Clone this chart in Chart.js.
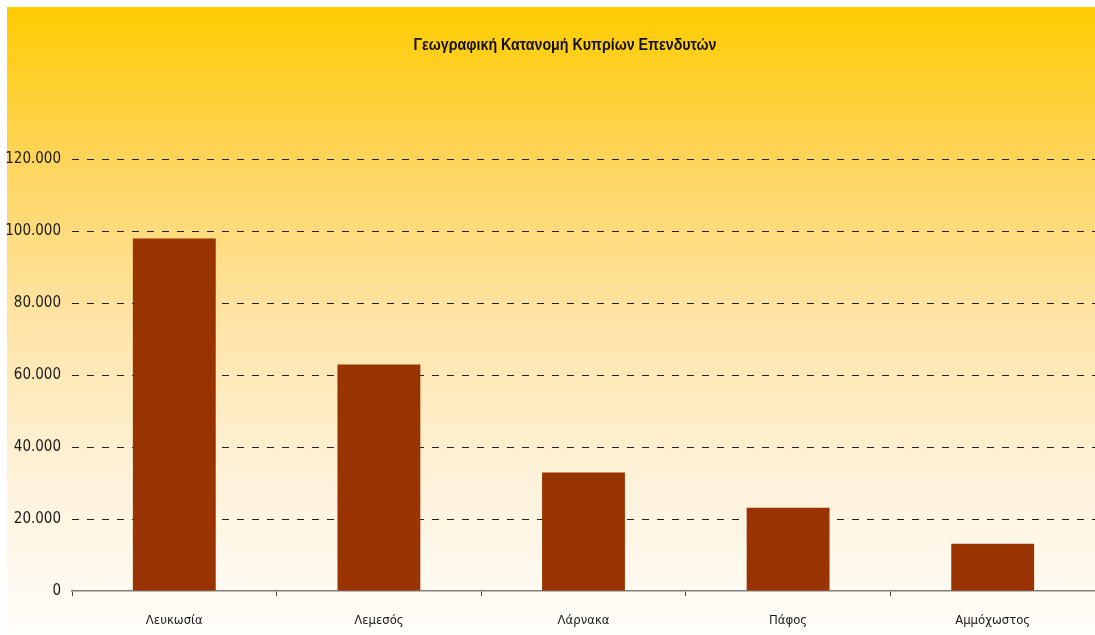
<!DOCTYPE html>
<html>
<head>
<meta charset="utf-8">
<script src="https://cdn.jsdelivr.net/npm/chart.js@4/dist/chart.umd.min.js"></script>
<style>
html,body{margin:0;padding:0;background:#fff;}
#wrap{position:relative;width:1095px;height:635px;}
</style>
</head>
<body>
<div id="wrap"><canvas id="c" width="1095" height="635"></canvas></div>
<script>
const chartTitle = 'Γεωγραφική Κατανομή Κυπρίων Επενδυτών';
const categories = ['Λευκωσία', 'Λεμεσός', 'Λάρνακα', 'Πάφος', 'Αμμόχωστος'];
const investors = [97900, 62900, 32900, 23100, 13100];
const yMax = 120000;
const yStep = 20000;

const NARROW = "'Liberation Sans Narrow', 'DejaVu Sans Condensed', 'Arial Narrow', Arial, sans-serif";

const bgPlugin = {
  id: 'bg',
  beforeDraw(chart) {
    const ctx = chart.ctx;
    ctx.save();
    const g = ctx.createLinearGradient(0, 7, 0, 635);
    g.addColorStop(0, '#FFCC00');
    g.addColorStop(0.25, '#FED55E');
    g.addColorStop(0.5, '#FEE4A6');
    g.addColorStop(0.75, '#FEF2DA');
    g.addColorStop(1, '#FFFDFA');
    ctx.fillStyle = g;
    ctx.fillRect(7, 7, chart.width - 7, chart.height - 7);
    ctx.restore();
  }
};

const titlePlugin = {
  id: 'offsetTitle',
  afterDraw(chart) {
    const ctx = chart.ctx;
    ctx.save();
    ctx.font = "bold 16px 'Liberation Sans', Arial, sans-serif";
    ctx.fillStyle = '#111';
    ctx.textAlign = 'center';
    ctx.textBaseline = 'middle';
    const w = ctx.measureText(chartTitle).width;
    const sx = Math.min(1, 303 / w);
    ctx.translate(565, 46);
    ctx.scale(sx, 1);
    ctx.fillText(chartTitle, 0, 0);
    ctx.restore();
  }
};

new Chart(document.getElementById('c'), {
  type: 'bar',
  data: {
    labels: categories,
    datasets: [{
      data: investors,
      backgroundColor: '#993300',
      borderWidth: 0,
      categoryPercentage: 1,
      barPercentage: 0.405
    }]
  },
  options: {
    responsive: false,
    animation: false,
    layout: { padding: { top: 159, left: 0, right: 0, bottom: 0 } },
    plugins: {
      legend: { display: false },
      tooltip: { enabled: false },
      title: { display: false }
    },
    scales: {
      x: {
        afterFit(s) { s.height = 44; },
        grid: {
          offset: true,
          drawOnChartArea: false,
          drawTicks: true,
          tickLength: 5,
          color: '#444',
          lineWidth: 1
        },
        border: { display: true, color: '#808080', width: 1.5 },
        ticks: {
          color: '#1a1a1a',
          font: { family: NARROW, size: 13 },
          padding: 17,
          maxRotation: 0
        }
      },
      y: {
        min: 0,
        max: yMax,
        afterFit(s) { s.width = 72; },
        grid: {
          drawTicks: false,
          color: (ctx) => ctx.tick && ctx.tick.value === 0 ? 'rgba(0,0,0,0)' : '#222',
          lineWidth: 1
        },
        border: { display: false, dash: [7, 8] },
        ticks: {
          stepSize: yStep,
          color: '#1a1a1a',
          font: { family: NARROW, size: 15 },
          padding: 11,
          callback: (v) => String(v).replace(/\B(?=(\d{3})+(?!\d))/g, '.')
        }
      }
    }
  },
  plugins: [bgPlugin, titlePlugin]
});
</script>
</body>
</html>
